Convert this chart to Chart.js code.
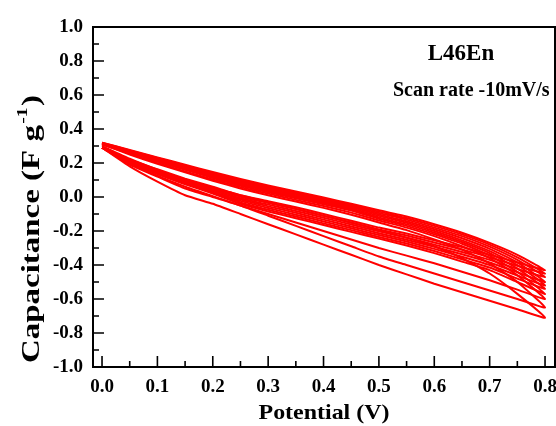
<!DOCTYPE html>
<html>
<head>
<meta charset="utf-8">
<script src="https://cdn.jsdelivr.net/npm/chart.js@4.4.1/dist/chart.umd.min.js"></script>
<style>
  html, body { margin: 0; padding: 0; background: #fff; }
  #wrap { width: 556px; height: 426px; }
</style>
</head>
<body>
<div id="wrap"><canvas id="chart"></canvas></div>
<script>
// potential grid (V), shared by every scan
const potential = [0, 0.05, 0.1, 0.15, 0.2, 0.25, 0.3, 0.35, 0.4, 0.45, 0.5, 0.55, 0.6, 0.65, 0.7, 0.75, 0.8];

// capacitance, one forward (0 -> 0.8 V) and one reverse (0.8 -> 0 V) branch per cycle
const cycle1Fwd = [0.29, 0.18, 0.09, 0.01, -0.04, -0.10, -0.16, -0.22, -0.28, -0.34, -0.40, -0.455, -0.51, -0.56, -0.61, -0.66, -0.71];
const cycle1Rev = [0.30, 0.225, 0.16, 0.10, 0.055, 0.01, -0.03, -0.07, -0.11, -0.15, -0.195, -0.24, -0.29, -0.36, -0.45, -0.57, -0.71];
const cycle2Fwd = [0.29, 0.19, 0.12, 0.05, 0.0, -0.05, -0.11, -0.17, -0.23, -0.29, -0.35, -0.40, -0.45, -0.50, -0.55, -0.60, -0.65];
const cycle2Rev = [0.31, 0.25, 0.195, 0.145, 0.096, 0.05, 0.01, -0.027, -0.064, -0.104, -0.15, -0.195, -0.25, -0.31, -0.39, -0.50, -0.65];
const cycle3Fwd = [0.29, 0.20, 0.125, 0.06, 0.005, -0.05, -0.10, -0.15, -0.20, -0.25, -0.30, -0.345, -0.39, -0.44, -0.49, -0.545, -0.60];
const cycle3Rev = [0.31, 0.255, 0.20, 0.15, 0.103, 0.058, 0.02, -0.017, -0.053, -0.092, -0.138, -0.18, -0.23, -0.29, -0.36, -0.46, -0.60];
const cycle4Fwd = [0.29, 0.205, 0.135, 0.075, 0.02, -0.04, -0.085, -0.125, -0.165, -0.205, -0.245, -0.285, -0.33, -0.38, -0.43, -0.50, -0.57];
const cycle4Rev = [0.31, 0.262, 0.208, 0.16, 0.112, 0.066, 0.028, -0.008, -0.043, -0.08, -0.128, -0.17, -0.22, -0.275, -0.345, -0.44, -0.57];
const cycle5Fwd = [0.29, 0.208, 0.14, 0.08, 0.027, -0.032, -0.075, -0.115, -0.155, -0.195, -0.235, -0.274, -0.318, -0.366, -0.415, -0.48, -0.54];
const cycle5Rev = [0.312, 0.265, 0.212, 0.165, 0.118, 0.073, 0.035, -0.002, -0.036, -0.073, -0.12, -0.161, -0.21, -0.265, -0.33, -0.42, -0.54];
const cycle6Fwd = [0.29, 0.21, 0.144, 0.086, 0.033, -0.023, -0.065, -0.104, -0.144, -0.184, -0.224, -0.262, -0.305, -0.351, -0.40, -0.462, -0.52];
const cycle6Rev = [0.314, 0.267, 0.216, 0.17, 0.124, 0.079, 0.041, 0.004, -0.03, -0.067, -0.111, -0.152, -0.20, -0.255, -0.318, -0.40, -0.52];
const cycle7Fwd = [0.29, 0.213, 0.149, 0.092, 0.04, -0.015, -0.055, -0.093, -0.133, -0.173, -0.213, -0.251, -0.293, -0.337, -0.385, -0.443, -0.50];
const cycle7Rev = [0.316, 0.27, 0.221, 0.175, 0.129, 0.086, 0.048, 0.011, -0.023, -0.06, -0.103, -0.143, -0.19, -0.243, -0.305, -0.385, -0.50];
const cycle8Fwd = [0.29, 0.215, 0.153, 0.097, 0.047, -0.007, -0.045, -0.082, -0.122, -0.162, -0.202, -0.239, -0.28, -0.323, -0.37, -0.423, -0.47];
const cycle8Rev = [0.318, 0.272, 0.225, 0.18, 0.135, 0.093, 0.054, 0.018, -0.017, -0.054, -0.094, -0.133, -0.18, -0.23, -0.292, -0.37, -0.47];
const cycle9Fwd = [0.29, 0.218, 0.158, 0.103, 0.053, 0.002, -0.035, -0.071, -0.111, -0.151, -0.191, -0.227, -0.268, -0.309, -0.355, -0.404, -0.45];
const cycle9Rev = [0.32, 0.274, 0.229, 0.185, 0.141, 0.099, 0.061, 0.025, -0.01, -0.047, -0.086, -0.124, -0.17, -0.22, -0.28, -0.355, -0.45];
const cycle10Fwd = [0.29, 0.22, 0.163, 0.108, 0.06, 0.01, -0.025, -0.06, -0.10, -0.14, -0.18, -0.215, -0.255, -0.295, -0.34, -0.385, -0.43];
const cycle10Rev = [0.32, 0.277, 0.233, 0.19, 0.147, 0.106, 0.068, 0.032, -0.003, -0.04, -0.078, -0.115, -0.16, -0.21, -0.27, -0.34, -0.43];

const cycles = [
  [cycle1Fwd, cycle1Rev], [cycle2Fwd, cycle2Rev], [cycle3Fwd, cycle3Rev], [cycle4Fwd, cycle4Rev],
  [cycle5Fwd, cycle5Rev], [cycle6Fwd, cycle6Rev], [cycle7Fwd, cycle7Rev], [cycle8Fwd, cycle8Rev],
  [cycle9Fwd, cycle9Rev], [cycle10Fwd, cycle10Rev]
];

// tick labels
const xTicks = [0.0, 0.1, 0.2, 0.3, 0.4, 0.5, 0.6, 0.7, 0.8];
const yTicks = [-1.0, -0.8, -0.6, -0.4, -0.2, 0.0, 0.2, 0.4, 0.6, 0.8, 1.0];

const serif = "'Liberation Serif', 'Times New Roman', serif";

const datasets = cycles.map(([fwd, rev]) => {
  const pts = potential.map((v, i) => ({ x: v, y: fwd[i] }));
  for (let i = potential.length - 2; i >= 0; i--) pts.push({ x: potential[i], y: rev[i] });
  return {
    data: pts,
    showLine: true,
    borderColor: '#ff0000',
    borderWidth: 2,
    pointRadius: 0,
    tension: 0.15
  };
});

// frame, inward ticks, axis titles and the notes
const decor = {
  id: 'decor',
  afterDraw(chart) {
    const { ctx, chartArea: a, scales: { x, y } } = chart;
    ctx.save();
    ctx.strokeStyle = '#000';
    ctx.lineWidth = 2;
    ctx.strokeRect(a.left, a.top, a.right - a.left, a.bottom - a.top);

    ctx.lineWidth = 1.6;
    ctx.beginPath();
    xTicks.forEach((v, i) => {
      let px = x.getPixelForValue(v);
      ctx.moveTo(px, a.bottom); ctx.lineTo(px, a.bottom - 11);
      if (i < xTicks.length - 1) {
        px = x.getPixelForValue((v + xTicks[i + 1]) / 2);
        ctx.moveTo(px, a.bottom); ctx.lineTo(px, a.bottom - 6);
      }
    });
    yTicks.forEach((v, i) => {
      let py = y.getPixelForValue(v);
      ctx.moveTo(a.left, py); ctx.lineTo(a.left + 11, py);
      if (i < yTicks.length - 1) {
        py = y.getPixelForValue((v + yTicks[i + 1]) / 2);
        ctx.moveTo(a.left, py); ctx.lineTo(a.left + 6, py);
      }
    });
    ctx.stroke();

    ctx.fillStyle = '#000';
    ctx.textBaseline = 'alphabetic';

    // x title
    ctx.save();
    ctx.font = 'bold 21px ' + serif;
    let w = ctx.measureText('Potential (V)').width;
    ctx.translate((a.left + a.right) / 2, 419);
    ctx.scale(131 / w, 1);
    ctx.textAlign = 'center';
    ctx.fillText('Potential (V)', 0, 0);
    ctx.restore();

    // y title with superscript
    ctx.save();
    ctx.font = 'bold 25px ' + serif;
    const p1 = 'Capacitance (F g', p3 = ')';
    const w1 = ctx.measureText(p1).width, w3 = ctx.measureText(p3).width;
    ctx.font = 'bold 15px ' + serif;
    const w2 = ctx.measureText('-1').width;
    const total = w1 + w2 + w3 + 2;
    ctx.translate(39, 229);
    ctx.rotate(-Math.PI / 2);
    ctx.scale(268 / total, 1);
    ctx.textAlign = 'left';
    ctx.font = 'bold 25px ' + serif;
    ctx.fillText(p1, -total / 2, 0);
    ctx.font = 'bold 15px ' + serif;
    ctx.fillText('-1', -total / 2 + w1 + 1, -12);
    ctx.font = 'bold 25px ' + serif;
    ctx.fillText(p3, -total / 2 + w1 + w2 + 2, 0);
    ctx.restore();

    // notes
    ctx.textAlign = 'center';
    ctx.font = 'bold 23px ' + serif;
    ctx.fillText('L46En', 461, 60);
    ctx.textAlign = 'left';
    ctx.font = 'bold 20px ' + serif;
    ctx.fillText('Scan rate -10mV/s', 393, 96);
    ctx.restore();
  }
};

const config = {
  type: 'scatter',
  data: { datasets },
  options: {
    responsive: true,
    maintainAspectRatio: false,
    animation: false,
    layout: { padding: { top: 27, right: 1, bottom: 0, left: 0 } },
    plugins: { legend: { display: false }, tooltip: { enabled: false } },
    scales: {
      x: {
        type: 'linear',
        min: -0.0163,
        max: 0.818,
        grid: { display: false },
        border: { display: false },
        afterBuildTicks: s => { s.ticks = xTicks.map(v => ({ value: v })); },
        afterFit: s => { s.height = 59; s.paddingLeft = 0; s.paddingRight = 0; },
        ticks: {
          color: '#000',
          padding: 1,
          maxRotation: 0,
          font: { family: serif, size: 19, weight: 'bold' },
          callback: v => v.toFixed(1)
        }
      },
      y: {
        type: 'linear',
        min: -1,
        max: 1,
        grid: { display: false },
        border: { display: false },
        afterBuildTicks: s => { s.ticks = yTicks.map(v => ({ value: v })); },
        afterFit: s => { s.width = 93; s.paddingTop = 0; s.paddingBottom = 0; },
        ticks: {
          color: '#000',
          padding: 2,
          font: { family: serif, size: 19, weight: 'bold' },
          callback: v => v.toFixed(1)
        }
      }
    }
  },
  plugins: [decor]
};

var chart = document.getElementById('chart');
var myChart = new Chart(chart, config);
</script>
</body>
</html>
